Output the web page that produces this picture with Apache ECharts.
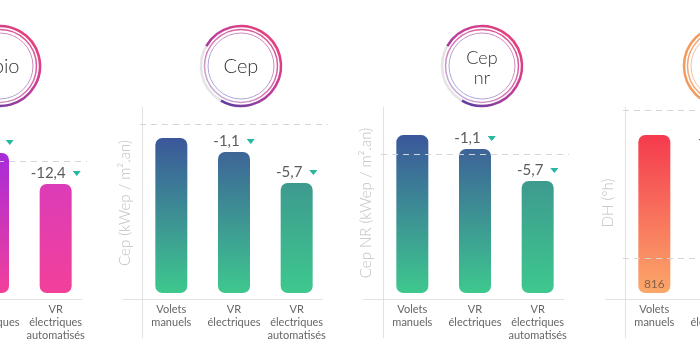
<!DOCTYPE html>
<html><head><meta charset="utf-8">
<script src="https://cdn.jsdelivr.net/npm/echarts@6/dist/echarts.min.js"></script>
<style>html,body{margin:0;padding:0;background:#fff}#c{width:700px;height:356px}</style>
</head><body><div id="c"></div>
<script>
// ---- data ----
const categories = ['Volets\nmanuels', 'VR\nélectriques', 'VR\nélectriques\nautomatisés'];
const panelTitles = ['Bbio', 'Cep', 'Cep\nnr', 'DH'];
const axisNames = ['Bbio (points)', 'Cep (kWep / m².an)', 'Cep NR (kWep / m².an)', 'DH (°h)'];
const bbioValues = [82.0, 75.3, 58.6];
const cepValues = [83.3, 75.8, 59.1];
const cepNrValues = [84.9, 77.4, 60.2];
const dhValues = [816, 738, 620];
const bbioLabels = ['', '-2,3', '-12,4'];
const cepLabels = ['', '-1,1', '-5,7'];
const cepNrLabels = ['', '-1,1', '-5,7'];
const dhLabels = ['816', '-78', '-196'];
const bbioRefs = [71.0];
const cepRefs = [90.9];
const cepNrRefs = [74.6];
const dhRefs = [945, 180];
const axisMax = [100, 100, 100, 960];

// ---- styles / layout ----
const panelAxisX = [-99, 142, 383, 625];
const barTops = [
  ['#9a26e6', '#a82bd9', '#dc3cb8'],
  ['#3b579a', '#3d6597', '#3d9a8f'],
  ['#3b579b', '#3d6398', '#3d9a8f'],
  ['#f53a4e', '#f6465a', '#f7624f']
];
const barBottoms = ['#f2409a', '#3ec88e', '#3ec88e', '#fba86a'];
const ringThemes = ['pink', 'pink', 'pink', 'orange'];

const tri = document.createElement('canvas');
tri.width = 16; tri.height = 10;
(function(){const g = tri.getContext('2d'); g.fillStyle = '#27b89e'; g.beginPath(); g.moveTo(0,0); g.lineTo(16,0); g.lineTo(8,10); g.closePath(); g.fill();})();

const rich = {
  v: {fontSize: 15, color: '#5c5c5c', fontFamily: 'Lato', fontWeight: 400},
  s: {width: 7},
  t: {width: 8, height: 5, backgroundColor: {image: tri}}
};

const allValues = [bbioValues, cepValues, cepNrValues, dhValues];
const allLabels = [bbioLabels, cepLabels, cepNrLabels, dhLabels];
const allRefs = [bbioRefs, cepRefs, cepNrRefs, dhRefs];

const grids = [], xAxes = [], yAxes = [], series = [], graphics = [];
const G = echarts.graphic;

function ring(cx, cy, theme) {
  const out = [];
  if (theme === 'pink') {
    out.push({type: 'circle', shape: {cx, cy, r: 40}, style: {fill: 'none', stroke: '#e4e4e4', lineWidth: 2.5}});
    out.push({type: 'arc', shape: {cx, cy, r: 40, startAngle: -Math.PI * 5 / 6, endAngle: Math.PI * 2 / 3, clockwise: true},
      style: {fill: 'none', lineWidth: 2.5, stroke: new G.LinearGradient(cx + 40, cy - 20, cx - 20, cy + 40,
        [{offset: 0, color: '#e8407a'}, {offset: 0.45, color: '#c43c9e'}, {offset: 1, color: '#5a3da2'}], true)}});
    out.push({type: 'circle', shape: {cx, cy, r: 36.5}, style: {fill: 'none', lineWidth: 1.5, stroke: new G.LinearGradient(cx + 30, cy - 30, cx - 30, cy + 30,
      [{offset: 0, color: '#dd4d94'}, {offset: 0.6, color: '#d77ab4'}, {offset: 1, color: '#c2b2dc'}], true)}});
    out.push({type: 'circle', shape: {cx, cy, r: 33}, style: {fill: 'none', lineWidth: 1, stroke: new G.LinearGradient(cx + 30, cy - 30, cx - 30, cy + 30,
      [{offset: 0, color: '#d882b8'}, {offset: 1, color: '#a0b0de'}], true)}});
  } else {
    out.push({type: 'circle', shape: {cx, cy, r: 40}, style: {fill: 'none', stroke: '#f39a5c', lineWidth: 2.5}});
    out.push({type: 'circle', shape: {cx, cy, r: 36.5}, style: {fill: 'none', stroke: '#f5a673', lineWidth: 1.5}});
    out.push({type: 'circle', shape: {cx, cy, r: 33}, style: {fill: 'none', stroke: '#f3c0a0', lineWidth: 1}});
  }
  return out;
}

for (let i = 0; i < 4; i++) {
  const ax = panelAxisX[i];
  grids.push({left: ax - 2, width: 188, top: 107, bottom: 63, containLabel: false, outerBoundsMode: 'none'});
  xAxes.push({type: 'category', gridIndex: i, data: categories,
    axisLine: {show: false}, axisTick: {show: false},
    axisLabel: {interval: 0, color: '#666', fontSize: 11, lineHeight: 13, margin: 10, fontFamily: 'Lato', hideOverlap: false}});
  yAxes.push({type: 'value', gridIndex: i, min: 0, max: axisMax[i],
    axisLine: {show: false}, axisTick: {show: false}, axisLabel: {show: false}, splitLine: {show: false},
    name: axisNames[i], nameLocation: 'middle', nameGap: 7,
    nameTextStyle: {color: '#bfbfbf', fontSize: 15, fontFamily: 'Lato', fontWeight: 300, padding: [0, 6, 0, 0]}});
  const vals = allValues[i], lbls = allLabels[i];
  const data = vals.map((v, k) => {
    const item = {value: v, itemStyle: {borderRadius: 7,
      color: new G.LinearGradient(0, 0, 0, 1, [{offset: 0, color: barTops[i][k]}, {offset: 1, color: barBottoms[i]}])}};
    if (lbls[k]) {
      if (i === 3 && k === 0) {
        item.label = {show: true, position: 'insideBottom', distance: 3, align: 'center', verticalAlign: 'bottom',
          formatter: lbls[k], color: '#86604a', fontSize: 12, fontFamily: 'Lato'};
      } else {
        item.label = {show: true, position: 'top', distance: 3, formatter: '{v|' + lbls[k] + '}{s|}{t|}', rich: rich};
      }
    }
    return item;
  });
  series.push({type: 'bar', xAxisIndex: i, yAxisIndex: i, barWidth: 32, data: data,
    markLine: {silent: true, symbol: ['none', 'none'], label: {show: false},
      lineStyle: {type: [6, 5], color: '#d6d6d6', width: 1},
      data: allRefs[i].map(r => ({yAxis: r}))}});
  // frame lines
  graphics.push({type: 'line', shape: {x1: ax + 0.5, y1: 107, x2: ax + 0.5, y2: 338}, style: {stroke: '#e2e2e2', lineWidth: 1}, silent: true});
  graphics.push({type: 'line', shape: {x1: ax - 20, y1: 299.5, x2: ax + 181, y2: 299.5}, style: {stroke: '#e2e2e2', lineWidth: 1}, silent: true});
  // title circle
  const cx = ax + 99, cy = 66;
  ring(cx, cy, ringThemes[i]).forEach(g => graphics.push(Object.assign({silent: true}, g)));
  const twoLine = panelTitles[i].indexOf('\n') >= 0;
  graphics.push({type: 'text', silent: true, style: {x: cx, y: twoLine ? 68 : 67, text: panelTitles[i], align: 'center', verticalAlign: 'middle',
    fill: '#333', fontSize: twoLine ? 18 : 20, lineHeight: 20, fontFamily: 'Lato', fontWeight: 300}});
}

const chart = echarts.init(document.getElementById('c'), null, {renderer: 'canvas'});
chart.setOption({
  animation: false,
  backgroundColor: '#fff',
  grid: grids, xAxis: xAxes, yAxis: yAxes, series: series,
  graphic: {elements: graphics}
});
</script></body></html>
